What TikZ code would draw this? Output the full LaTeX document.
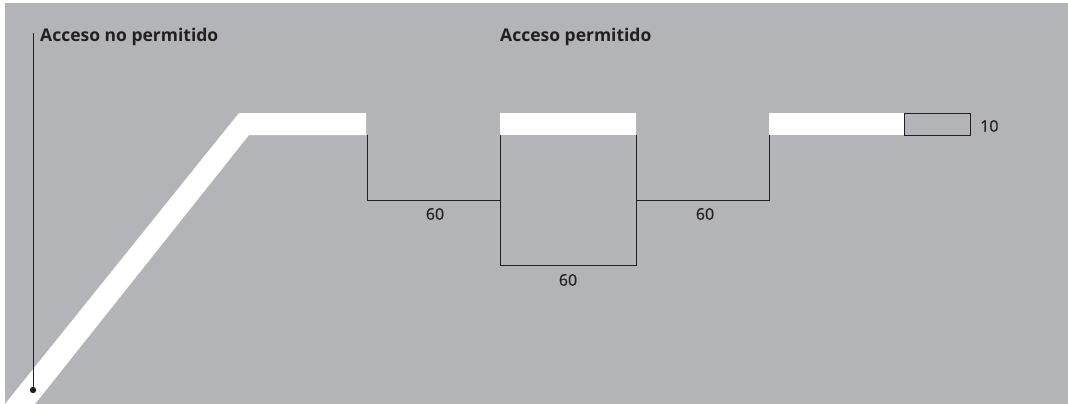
\documentclass[tikz,border=0pt]{standalone}
\usepackage{fontspec}
\setmainfont{Open Sans}
\newfontfamily\numfont[FakeBold=0.6]{Open Sans}
\usetikzlibrary{positioning}
\definecolor{panel}{HTML}{B3B4B7}
\definecolor{ink}{HTML}{231F20}

\begin{document}
\begin{tikzpicture}[x=1pt, y=-1pt,
  dim/.style={draw=ink, line width=1pt},
  lane/.style={fill=white, draw=none},
  head/.style={font=\fontsize{17.5}{20}\selectfont\bfseries, text=ink, anchor=base west, inner sep=0pt},
  num/.style={font=\fontsize{16}{18}\selectfont\numfont, text=ink, inner sep=0pt}]
  \useasboundingbox (0,0) rectangle (1068,404);
  \fill[panel] (5,3) rectangle (1068,404);

  % ramp and top segment
  \fill[lane] (5,404) -- (239,113) -- (366,113) -- (366,135) -- (249,135) -- (35,404) -- cycle;
  \fill[lane] (500,113) rectangle (636,135);
  \fill[lane] (769,113) rectangle (904,135);

  % corner points of the dimension lines
  \coordinate (a1) at (367,135);
  \coordinate (a2) at (367,200);
  \coordinate (b1) at (500,135);
  \coordinate (b2) at (500,265);
  \coordinate (c1) at (636,135);
  \coordinate (c2) at (636,265);
  \coordinate (d1) at (769,135);
  \coordinate (d2) at (769,200);
  \draw[dim] (a1) -- (a2) -- (a2 -| b1);
  \draw[dim] (b1) -- (b2) -- (c2) -- (c1);
  \draw[dim] (c2 |- d2) -- (d2) -- (d1);
  \draw[dim] (904,113) rectangle (970,135) coordinate (e);

  \node[num] (n1) at (435,214) {60};
  \node[num] (n2) at (568,280) {60};
  \node[num] (n3) at (705,214) {60};
  \node[num, anchor=west] (n4) at (980,126) {10};

  % labels
  \node[head] (deny) at (40,42) {Acceso no permitido};
  \node[head] (allow) at (500,42) {Acceso permitido};
  \coordinate (dot) at (33,390);
  \draw[ink, line width=1pt] (33,33) -- (dot);
  \fill[ink] (dot) circle (3.2);
\end{tikzpicture}
\end{document}
